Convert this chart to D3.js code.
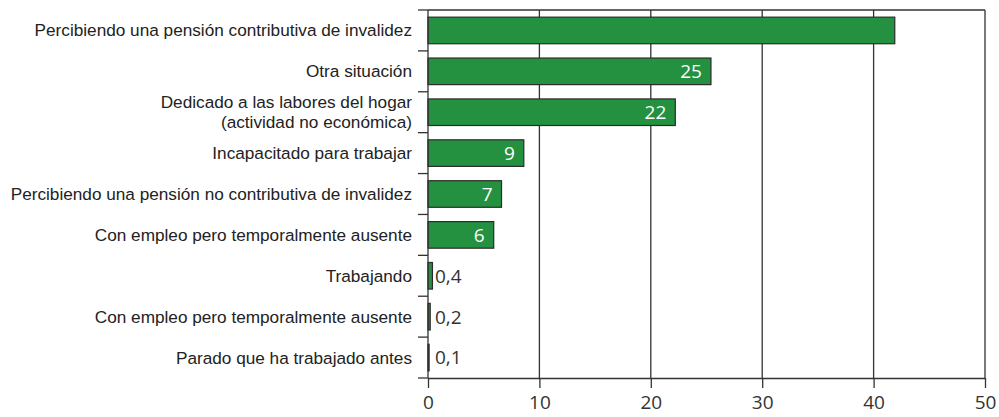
<!DOCTYPE html>
<html>
<head>
<meta charset="utf-8">
<script src="https://cdn.jsdelivr.net/npm/d3@7"></script>
<style>
  html, body { margin: 0; padding: 0; background: #fff; }
  svg { display: block; }
</style>
</head>
<body>
<svg id="chart" width="999" height="417"></svg>
<script>
// Situación de la persona (porcentaje)
const categories = [
  ["Percibiendo una pensión contributiva de invalidez"],
  ["Otra situación"],
  ["Dedicado a las labores del hogar", "(actividad no económica)"],
  ["Incapacitado para trabajar"],
  ["Percibiendo una pensión no contributiva de invalidez"],
  ["Con empleo pero temporalmente ausente"],
  ["Trabajando"],
  ["Con empleo pero temporalmente ausente"],
  ["Parado que ha trabajado antes"]
];
const values = [41.9, 25.4, 22.2, 8.6, 6.6, 5.9, 0.4, 0.2, 0.1];
const showValue = [false, true, true, true, true, true, true, true, true];
const xTicks = [0, 10, 20, 30, 40, 50];

const svg = d3.select("#chart");
const margin = { top: 10, right: 14, bottom: 39, left: 428 };
const W = 999, H = 417;
const innerW = W - margin.left - margin.right;
const innerH = H - margin.top - margin.bottom;

const g = svg.append("g").attr("transform", `translate(${margin.left},${margin.top})`);

const x = d3.scaleLinear().domain([0, 50]).range([0, innerW]);
const y = d3.scaleBand().domain(d3.range(categories.length)).range([0, innerH]).paddingInner(0.35).paddingOuter(0.175);

const es = d3.formatLocale({ decimal: ",", thousands: ".", grouping: [3], currency: ["", " €"] });
const fmtInt = es.format(".0f");
const fmtDec = es.format(".1f");

const lineColor = "#333";
const numFont = "'Open Sans', 'Noto Sans', sans-serif";
const catFont = "'Liberation Sans Narrow', 'Arial Narrow', 'Liberation Sans', sans-serif";

// vertical gridlines (includes right frame at 50)
g.selectAll("line.grid").data(xTicks.slice(1)).enter().append("line")
  .attr("class", "grid")
  .attr("x1", d => x(d)).attr("x2", d => x(d))
  .attr("y1", 0).attr("y2", innerH)
  .attr("stroke", lineColor).attr("stroke-width", 1.3);

// top frame
g.append("line").attr("x1", 0).attr("x2", innerW).attr("y1", 0).attr("y2", 0)
  .attr("stroke", lineColor).attr("stroke-width", 1.3);

// bars
const rows = values.map((v, i) => ({ v, i, lab: categories[i], show: showValue[i] }));
g.selectAll("rect.bar").data(rows).enter().append("rect")
  .attr("class", "bar")
  .attr("x", x(0))
  .attr("y", d => y(d.i))
  .attr("width", d => x(d.v) - x(0))
  .attr("height", y.bandwidth())
  .attr("fill", "#239140")
  .attr("stroke", "#2b2b2b")
  .attr("stroke-width", 1.2);

// value labels
g.selectAll("text.val").data(rows.filter(d => d.show)).enter().append("text")
  .attr("class", "val")
  .attr("x", d => d.v >= 1 ? x(d.v) - 9 : x(0) + 7)
  .attr("y", d => y(d.i) + y.bandwidth() / 2)
  .attr("dy", "0.36em")
  .attr("text-anchor", d => d.v >= 1 ? "end" : "start")
  .attr("fill", d => d.v >= 1 ? "#fff" : "#333")
  .style("font-family", numFont)
  .style("font-size", "19px")
  .text(d => d.v >= 1 ? fmtInt(d.v) : fmtDec(d.v));

// x axis
const xAxis = g.append("g").attr("transform", `translate(0,${innerH})`)
  .call(d3.axisBottom(x).tickValues(xTicks).tickSize(10).tickPadding(8).tickSizeOuter(0));
xAxis.select(".domain").attr("stroke", lineColor).attr("stroke-width", 1.3);
xAxis.selectAll(".tick line").attr("stroke", lineColor).attr("stroke-width", 1.3);
xAxis.selectAll(".tick text")
  .attr("fill", "#333")
  .style("font-family", numFont)
  .style("font-size", "19px");

// y axis line with boundary ticks between categories
const yAxis = g.append("g");
yAxis.append("line").attr("x1", 0).attr("x2", 0).attr("y1", 0).attr("y2", innerH)
  .attr("stroke", lineColor).attr("stroke-width", 1.3);
const step = y.step();
const boundaryY = k => (k === 0 ? 0 : (k === categories.length ? innerH : y(k) - (step - y.bandwidth()) / 2));
yAxis.selectAll("line.btick").data(d3.range(categories.length + 1)).enter().append("line")
  .attr("class", "btick")
  .attr("x1", -10).attr("x2", 0)
  .attr("y1", boundaryY)
  .attr("y2", boundaryY)
  .attr("stroke", lineColor).attr("stroke-width", 1.3);

// category labels, one text element per line
const lh = 19.5;
const catLines = [];
rows.forEach(d => {
  const n = d.lab.length;
  d.lab.forEach((line, j) => catLines.push({
    text: line,
    cy: y(d.i) + y.bandwidth() / 2 + (j - (n - 1) / 2) * lh
  }));
});
g.selectAll("text.cat").data(catLines).enter().append("text")
  .attr("class", "cat")
  .attr("x", -16)
  .attr("y", d => d.cy)
  .attr("dy", "0.35em")
  .attr("text-anchor", "end")
  .attr("fill", "#222")
  .style("font-family", catFont)
  .style("font-size", "17.2px")
  .text(d => d.text);
</script>
</body>
</html>
